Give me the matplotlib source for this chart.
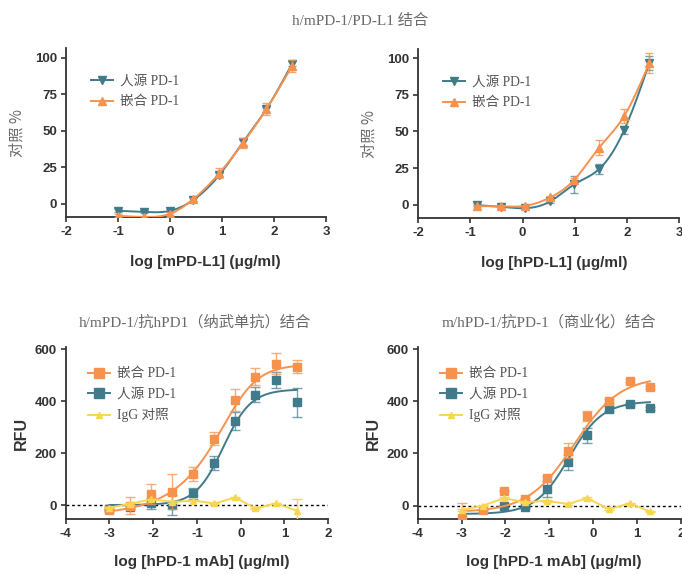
import numpy as np
import matplotlib
matplotlib.use("Agg")
import matplotlib.pyplot as plt

plt.rcParams['font.family'] = ['Liberation Sans', 'Noto Sans CJK SC', 'DejaVu Sans']

# ---------------- data ----------------
# Top-left: h/mPD-1 binding to mPD-L1
tl_x = [-1.0, -0.5, 0.0, 0.45, 0.95, 1.4, 1.85, 2.35]
tl_human = [-4.8, -5.5, -4.8, 2.7, 19.8, 42.0, 64.7, 96.0]
tl_human_err = [1, 1, 1, 1, 1, 1.5, 1.5, 1.5]
tl_chim = [-8.2, -9.0, -6.8, 3.2, 21.0, 41.5, 64.7, 94.5]
tl_chim_err = [1, 1, 1, 1, 3.5, 3.5, 4, 4]

# Top-right: binding to hPD-L1
tr_x = [-0.88, -0.42, 0.05, 0.53, 0.99, 1.47, 1.95, 2.43]
tr_human = [-0.2, -1.4, -2.3, 2.3, 13.9, 24.4, 51.0, 96.6]
tr_human_err = [0.8, 0.8, 0.8, 1, 6, 3.5, 2.5, 5]
tr_chim = [-0.9, -1.1, -0.7, 5.0, 17.0, 39.0, 60.6, 96.6]
tr_chim_err = [0.8, 0.8, 0.8, 1, 1.5, 5, 4.5, 7]

# Bottom-left: anti-hPD1 (nivolumab) binding
bl_x = [-3.0, -2.52, -2.04, -1.56, -1.08, -0.6, -0.12, 0.33, 0.81, 1.28]
bl_chim = [-19, -3, 42, 51, 119, 255, 405, 494, 543, 532]
bl_chim_err = [5, 32, 37, 68, 28, 26, 42, 32, 41, 25]
bl_human = [-15, -9, 6, 0, 45, 160, 323, 425, 481, 395]
bl_human_err = [5, 5, 22, 40, 20, 27, 35, 27, 30, 55]
bl_igg = [-10, 5, 22, 12, 17, 6, 29, -13, 6, -22]
bl_igg_err = [3, 3, 3, 3, 3, 3, 3, 3, 3, 45]

# Bottom-right: anti-PD-1 (commercial) binding
br_x = [-3.0, -2.52, -2.03, -1.55, -1.06, -0.58, -0.14, 0.36, 0.83, 1.29]
br_chim = [-49, -18, 58, 26, 105, 211, 344, 402, 479, 453]
br_chim_err = [60, 3, 3, 3, 10, 28, 20, 8, 5, 5]
br_human = [np.nan, np.nan, -1, -4, 63, 166, 269, 372, 388, 373]
br_human_err = [0, 0, 3, 3, 30, 28, 30, 8, 5, 5]
br_igg = [-17, 0, 29, 13, 19, 6, 29, -13, 9, -22]
br_igg_err = [3, 3, 3, 3, 3, 3, 3, 3, 3, 3]

# 5PL fit parameters for bottom panels: bottom, top, logEC50, hill, asym
bl_chim_fit = (-40, 540, -0.109, 1.2, 0.45)
bl_human_fit = (0, 445, -0.399, 1.37, 1.0)
br_chim_fit = (-25, 495, -0.436, 0.83, 1.0)
br_human_fit = (-32, 400, -0.551, 1.14, 1.0)

labels_human = '人源 PD-1'
labels_chim = '嵌合 PD-1'
labels_igg = 'IgG 对照'

title_top = 'h/mPD-1/PD-L1 结合'
title_bl = 'h/mPD-1/抗hPD1（纳武单抗）结合'
title_br = 'm/hPD-1/抗PD-1（商业化）结合'

# ---------------- styles ----------------
TEAL = '#3f7b8a'
ORANGE = '#f7924e'
YELLOW = '#f8d64e'
AX = '#333333'
TXT_GRAY = '#6a6a6a'
SERIF = ['Liberation Serif', 'Noto Sans CJK SC']


def natural_spline(x, y, xs):
    x = np.asarray(x, float); y = np.asarray(y, float)
    n = len(x)
    h = np.diff(x)
    A = np.zeros((n, n)); r = np.zeros(n)
    A[0, 0] = 1; A[-1, -1] = 1
    for i in range(1, n - 1):
        A[i, i - 1] = h[i - 1]; A[i, i] = 2 * (h[i - 1] + h[i]); A[i, i + 1] = h[i]
        r[i] = 3 * ((y[i + 1] - y[i]) / h[i] - (y[i] - y[i - 1]) / h[i - 1])
    c = np.linalg.solve(A, r)
    b = (y[1:] - y[:-1]) / h - h * (2 * c[:-1] + c[1:]) / 3
    d = (c[1:] - c[:-1]) / (3 * h)
    idx = np.clip(np.searchsorted(x, xs) - 1, 0, n - 2)
    dx = xs - x[idx]
    return y[idx] + b[idx] * dx + c[idx] * dx ** 2 + d[idx] * dx ** 3


def fpl(xs, p):
    B, T, c, h, s = p
    return B + (T - B) / (1 + 10 ** ((c - xs) * h)) ** s


def style_axes(ax, xlim, ylim, xticks, yticks):
    ax.set_xlim(*xlim); ax.set_ylim(*ylim)
    ax.set_xticks(xticks); ax.set_yticks(yticks)
    ax.set_xticklabels([str(t) for t in xticks])
    for s in ['top', 'right']:
        ax.spines[s].set_visible(False)
    for s in ['left', 'bottom']:
        ax.spines[s].set_color(AX); ax.spines[s].set_linewidth(1.3)
    ax.tick_params(direction='out', length=3.5, width=1.2, color=AX,
                   labelsize=9.5, labelcolor=AX, pad=3)
    for lab in ax.get_xticklabels() + ax.get_yticklabels():
        lab.set_fontweight('bold')


fig = plt.figure(figsize=(6.82, 5.74), dpi=100)

ax_tl = fig.add_axes([0.0968, 0.6220, 0.3812, 0.2939])
ax_tr = fig.add_axes([0.6133, 0.6197, 0.3823, 0.2944])
ax_bl = fig.add_axes([0.0963, 0.0963, 0.3850, 0.2986])
ax_br = fig.add_axes([0.6125, 0.0958, 0.3861, 0.2991])

LEG = dict(loc='upper left', frameon=False, prop={'family': SERIF, 'size': 9.8},
           labelcolor='#555555', handlelength=1.6, handletextpad=0.5,
           labelspacing=0.55, borderaxespad=0)

# ---- top panels ----
for ax, xv, hv, he, cv, ce, xlab, ylim, lx in [
        (ax_tl, tl_x, tl_human, tl_human_err, tl_chim, tl_chim_err, 'log [mPD-L1] (μg/ml)', (-9, 106.5), 0.535),
        (ax_tr, tr_x, tr_human, tr_human_err, tr_chim, tr_chim_err, 'log [hPD-L1] (μg/ml)', (-9.2, 106), 0.52)]:
    xs = np.linspace(xv[0], xv[-1], 300)
    ax.plot(xs, natural_spline(xv, hv, xs), color=TEAL, lw=1.4, zorder=2)
    ax.errorbar(xv, hv, yerr=he, fmt='none', ecolor=TEAL, elinewidth=1.0, capsize=3, alpha=0.7, zorder=2)
    ax.plot(xv, hv, 'v', color=TEAL, ms=5.5, zorder=3)
    ax.plot(xs, natural_spline(xv, cv, xs), color=ORANGE, lw=1.4, zorder=4)
    ax.errorbar(xv, cv, yerr=ce, fmt='none', ecolor=ORANGE, elinewidth=1.0, capsize=3, alpha=0.8, zorder=4)
    ax.plot(xv, cv, '^', color=ORANGE, ms=5.5, zorder=5)
    ax.plot([], [], '-v', color=TEAL, ms=5.5, lw=1.4, label=labels_human)
    ax.plot([], [], '-^', color=ORANGE, ms=5.5, lw=1.4, label=labels_chim)
    style_axes(ax, (-2, 3), ylim, [-2, -1, 0, 1, 2, 3], [0, 25, 50, 75, 100])
    ax.set_xlabel(xlab, fontsize=11, fontweight='bold', color=AX)
    ax.xaxis.set_label_coords(lx, -0.267)
    ax.xaxis.label.set_va('center')
    ax.set_ylabel('对照 %', fontsize=11, color=TXT_GRAY, family=['Noto Sans CJK SC'], labelpad=7)
    h, l = ax.get_legend_handles_labels()
    ax.legend(h[-2:], l[-2:], bbox_to_anchor=(0.075, 0.875), **LEG)

# ---- bottom panels ----
for ax, xv, cv, ce, hv, he, gv, ge, cfit, hfit, ylim in [
        (ax_bl, bl_x, bl_chim, bl_chim_err, bl_human, bl_human_err, bl_igg, bl_igg_err,
         bl_chim_fit, bl_human_fit, (-52.7, 606.5)),
        (ax_br, br_x, br_chim, br_chim_err, br_human, br_human_err, br_igg, br_igg_err,
         br_chim_fit, br_human_fit, (-51, 606.5))]:
    xs = np.linspace(xv[0], xv[-1], 300)
    ax.axhline(0, color='black', lw=1.0, ls=(0, (2, 2)), zorder=1)
    ax.plot(xs, fpl(xs, hfit), color=TEAL, lw=1.4, zorder=2)
    ax.errorbar(xv, hv, yerr=he, fmt='none', ecolor=TEAL, elinewidth=1.0, capsize=3.5, alpha=0.7, zorder=2)
    ax.plot(xv, hv, 's', color=TEAL, ms=6, zorder=3)
    ax.plot(xs, fpl(xs, cfit), color=ORANGE, lw=1.4, zorder=4)
    ax.errorbar(xv, cv, yerr=ce, fmt='none', ecolor=ORANGE, elinewidth=1.0, capsize=3.5, alpha=0.75, zorder=4)
    ax.plot(xv, cv, 's', color=ORANGE, ms=6, zorder=5)
    ax.plot(xv, gv, '-^', color=YELLOW, lw=1.4, ms=5, zorder=6)
    ax.errorbar(xv, gv, yerr=ge, fmt='none', ecolor=YELLOW, elinewidth=1.0, capsize=3.5, zorder=6)
    ax.plot([], [], '-s', color=ORANGE, ms=6.5, lw=1.4, label=labels_chim)
    ax.plot([], [], '-s', color=TEAL, ms=6.5, lw=1.4, label=labels_human)
    ax.plot([], [], '-^', color=YELLOW, ms=5, lw=1.4, label=labels_igg)
    style_axes(ax, (-4, 2), ylim, [-4, -3, -2, -1, 0, 1, 2], [0, 200, 400, 600])
    ax.set_xlabel('log [hPD-1 mAb] (μg/ml)', fontsize=11, fontweight='bold', color=AX)
    ax.xaxis.set_label_coords(0.517, -0.25)
    ax.xaxis.label.set_va('center')
    ax.set_ylabel('RFU', fontsize=11.5, fontweight='bold', color=AX, labelpad=4)
    h, l = ax.get_legend_handles_labels()
    ax.legend(h[-3:], l[-3:], bbox_to_anchor=(0.065, 0.915), **LEG)

fig.text(360 / 682, 1 - 21 / 574, title_top, ha='center', va='center',
         fontsize=11, color=TXT_GRAY, family=SERIF)
fig.text(195 / 682, 1 - 322 / 574, title_bl, ha='center', va='center',
         fontsize=11, color=TXT_GRAY, family=SERIF)
fig.text(549 / 682, 1 - 322 / 574, title_br, ha='center', va='center',
         fontsize=11, color=TXT_GRAY, family=SERIF)

fig.savefig('out.png', dpi=100)
